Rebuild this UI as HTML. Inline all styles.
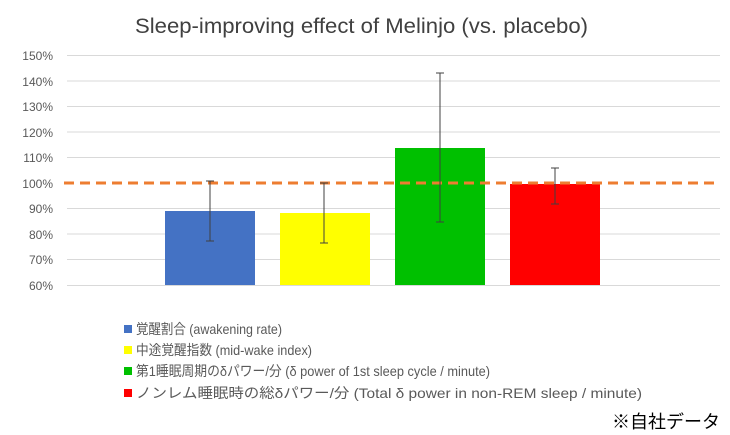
<!DOCTYPE html><html><head><meta charset="utf-8"><style>body{margin:0;background:#fff}svg{display:block}</style></head><body>
<svg width="730" height="435" xmlns="http://www.w3.org/2000/svg" font-family="Liberation Sans, Noto Sans CJK JP, sans-serif">
<text x="135" y="33" textLength="453" lengthAdjust="spacingAndGlyphs" font-size="21" fill="#404040">Sleep-improving effect of Melinjo (vs. placebo)</text>
<g stroke="#d9d9d9" stroke-width="1">
<line x1="67" x2="720" y1="55.5" y2="55.5"/><line x1="67" x2="720" y1="81" y2="81"/><line x1="67" x2="720" y1="106.5" y2="106.5"/><line x1="67" x2="720" y1="132" y2="132"/><line x1="67" x2="720" y1="157.5" y2="157.5"/><line x1="67" x2="720" y1="208.5" y2="208.5"/><line x1="67" x2="720" y1="234" y2="234"/><line x1="67" x2="720" y1="259.5" y2="259.5"/><line x1="67" x2="720" y1="285.5" y2="285.5"/></g>
<g font-size="12" fill="#595959" text-anchor="end">
<text x="53" y="60">150%</text><text x="53" y="86">140%</text><text x="53" y="111">130%</text><text x="53" y="137">120%</text><text x="53" y="162">110%</text><text x="53" y="188">100%</text><text x="53" y="213">90%</text><text x="53" y="239">80%</text><text x="53" y="264">70%</text><text x="53" y="290">60%</text></g>
<rect x="165" y="211" width="90" height="74" fill="#4472c4"/>
<rect x="280" y="213" width="90" height="72" fill="#ffff00"/>
<rect x="395" y="148" width="90" height="137" fill="#00c000"/>
<rect x="510" y="184" width="90" height="101" fill="#ff0000"/>
<line x1="64" x2="720" y1="183" y2="183" stroke="#ed7d31" stroke-width="3" stroke-dasharray="10,6"/>
<g stroke="#404040" stroke-width="1">
<line x1="210" x2="210" y1="181" y2="241"/><line x1="206" x2="214" y1="181" y2="181"/><line x1="206" x2="214" y1="241" y2="241"/>
<line x1="324" x2="324" y1="183" y2="243"/><line x1="320" x2="328" y1="183" y2="183"/><line x1="320" x2="328" y1="243" y2="243"/>
<line x1="440" x2="440" y1="73" y2="222"/><line x1="436" x2="444" y1="73" y2="73"/><line x1="436" x2="444" y1="222" y2="222"/>
<line x1="555" x2="555" y1="168" y2="204"/><line x1="551" x2="559" y1="168" y2="168"/><line x1="551" x2="559" y1="204" y2="204"/></g>
<g font-size="14" fill="#595959">
<rect x="124" y="325" width="8" height="8" fill="#4472c4"/><text x="136" y="334" textLength="146" lengthAdjust="spacingAndGlyphs">覚醒割合 (awakening rate)</text>
<rect x="124" y="346" width="8" height="8" fill="#ffff00"/><text x="136" y="355" textLength="176" lengthAdjust="spacingAndGlyphs">中途覚醒指数 (mid-wake index)</text>
<rect x="124" y="367" width="8" height="8" fill="#00c000"/><text x="136" y="376" textLength="354" lengthAdjust="spacingAndGlyphs">第1睡眠周期のδパワー/分 (δ power of 1st sleep cycle / minute)</text>
<rect x="124" y="389" width="8" height="8" fill="#ff0000"/><text x="136" y="398" textLength="506" lengthAdjust="spacingAndGlyphs">ノンレム睡眠時の総δパワー/分 (Total δ power in non-REM sleep  / minute)</text></g>
<text x="612" y="428" font-size="18" fill="#000">※自社データ</text>
</svg></body></html>
